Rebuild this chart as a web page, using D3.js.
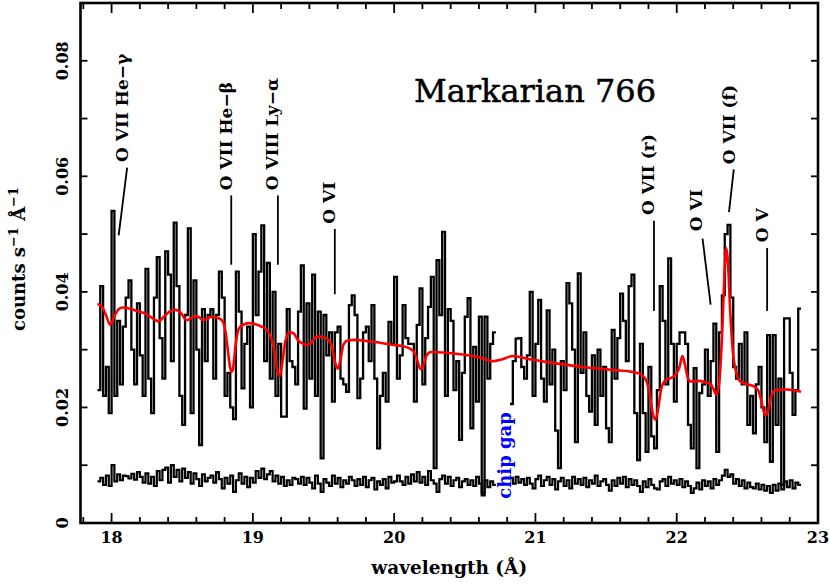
<!DOCTYPE html>
<html><head><meta charset="utf-8">
<script src="https://cdn.jsdelivr.net/npm/d3@7"></script>
<style>body{margin:0;background:#fff}svg{display:block}</style>
</head><body>
<svg id="c" width="830" height="584"></svg>
<script>
// ---------- data ----------
const binStart = 17.90, binWidth = 0.02;
const spectrum = [
0.023,0.041,0.022,0.027,0.019,0.054,0.022,0.035,0.024,0.034,
0.039,0.042,0.030,0.024,0.038,0.029,0.022,0.044,0.025,0.019,
0.039,0.046,0.032,0.025,0.047,0.043,0.028,0.052,0.041,0.022,
0.017,0.036,0.051,0.019,0.042,0.030,0.0135,0.037,0.028,0.036,
0.037,0.025,0.036,0.0435,0.039,0.022,0.026,0.020,0.018,0.0435,
0.0366,0.0233,0.031,0.034,0.020,0.050,0.036,0.0435,0.0515,0.028,
0.045,0.025,0.040,0.022,0.031,0.0184,0.0184,0.037,0.028,0.027,
0.024,0.0366,0.0446,0.0198,0.038,0.025,0.043,0.022,0.0366,0.0112,
0.036,0.029,0.033,0.021,0.033,0.034,0.025,0.024,0.0227,0.0377,
0.0394,0.036,0.0216,0.025,0.033,0.034,0.028,0.0377,0.025,0.0129,
0.022,0.026,0.021,0.0348,0.031,0.0426,0.025,0.029,0.0377,0.032,
0.031,0.031,0.021,0.0343,0.0406,0.024,0.032,0.0374,0.0426,0.0095,
0.0455,0.036,0.0504,0.022,0.037,0.035,0.023,0.028,0.0144,0.026,
0.0357,0.0389,0.0164,0.0305,0.021,0.0357,0.0048,0.0357,0.025,0.031,
0.033,null,null,null,null,null,0.0206,0.028,0.0319,0.032,
0.027,0.025,0.029,0.040,0.022,0.031,0.0386,0.025,0.021,0.0368,
0.024,0.030,0.016,0.0095,0.028,0.023,0.0415,0.038,0.030,0.014,
0.0432,0.026,0.033,0.022,0.0193,0.029,0.017,0.030,0.022,0.027,
0.0164,0.014,0.0334,0.025,0.032,0.0397,0.035,0.028,0.041,0.043,
0.019,0.0109,0.031,0.019,0.0123,0.027,0.015,0.0129,0.023,0.041,
0.035,0.024,0.0458,0.031,0.021,0.031,0.033,0.033,0.031,0.017,
0.0129,0.0268,0.0095,0.0225,0.024,0.030,0.022,0.028,0.0345,0.0123,
0.033,0.0394,0.050,0.0516,0.039,0.027,0.025,0.031,0.024,0.033,
0.017,0.022,0.0155,0.024,0.027,0.020,0.014,0.0325,0.0106,0.0325,
0.017,0.025,0.0066,0.0354,0.0354,0.026,0.0187,0.023,0.0371
];
const background = [
0.0072,0.0078,0.0066,0.0082,0.0064,0.0100,0.0072,0.0084,0.0074,0.0082,
0.0081,0.0077,0.0085,0.0075,0.0088,0.0080,0.0070,0.0086,0.0068,0.0080,
0.0064,0.0090,0.0074,0.0092,0.0096,0.0070,0.0100,0.0080,0.0092,0.0072,
0.0094,0.0078,0.0088,0.0068,0.0086,0.0076,0.0064,0.0084,0.0072,0.0078,
0.0082,0.0070,0.0088,0.0076,0.0060,0.0078,0.0068,0.0082,0.0054,0.0074,
0.0086,0.0068,0.0080,0.0062,0.0078,0.0070,0.0090,0.0078,0.0094,0.0076,
0.0084,0.0090,0.0072,0.0082,0.0068,0.0080,0.0064,0.0074,0.0066,0.0078,
0.0076,0.0068,0.0080,0.0066,0.0078,0.0070,0.0060,0.0082,0.0068,0.0054,
0.0076,0.0070,0.0064,0.0082,0.0068,0.0078,0.0062,0.0074,0.0068,0.0080,
0.0074,0.0064,0.0076,0.0066,0.0080,0.0062,0.0074,0.0078,0.0058,0.0072,
0.0066,0.0076,0.0060,0.0080,0.0070,0.0072,0.0082,0.0072,0.0066,0.0080,
0.0068,0.0084,0.0072,0.0088,0.0070,0.0080,0.0066,0.0090,0.0074,0.0068,
0.0054,0.0076,0.0082,0.0068,0.0080,0.0064,0.0074,0.0078,0.0062,0.0072,
0.0076,0.0066,0.0074,0.0064,0.0080,0.0068,0.0052,0.0074,0.0062,0.0072,
0.0066,null,null,null,null,null,0.0078,0.0068,0.0080,0.0070,
0.0076,0.0066,0.0078,0.0068,0.0060,0.0076,0.0082,0.0064,0.0074,0.0080,
0.0066,0.0076,0.0058,0.0072,0.0078,0.0064,0.0074,0.0060,0.0080,0.0068,
0.0076,0.0066,0.0078,0.0062,0.0074,0.0068,0.0082,0.0064,0.0072,0.0076,
0.0066,0.0056,0.0074,0.0064,0.0078,0.0068,0.0080,0.0062,0.0076,0.0066,
0.0074,0.0064,0.0054,0.0072,0.0062,0.0076,0.0066,0.0060,0.0058,0.0072,
0.0076,0.0064,0.0080,0.0068,0.0074,0.0066,0.0076,0.0062,0.0072,0.0064,
0.0052,0.0060,0.0070,0.0058,0.0074,0.0064,0.0072,0.0060,0.0076,0.0066,
0.0074,0.0082,0.0092,0.0080,0.0084,0.0068,0.0076,0.0064,0.0074,0.0060,
0.0070,0.0062,0.0060,0.0068,0.0058,0.0066,0.0056,0.0064,0.0052,0.0066,
0.0056,0.0068,0.0058,0.0072,0.0062,0.0074,0.0060,0.0070,0.0066
];
const modelWl = [17.90,17.93,17.96,17.99,18.02,18.05,18.08,18.13,18.18,18.24,18.30,18.33,18.37,18.41,18.45,18.49,18.53,18.56,18.59,18.62,18.65,18.68,18.71,18.75,18.78,18.80,18.82,18.84,18.85,18.86,18.88,18.90,18.93,18.97,19.02,19.06,19.10,19.13,19.15,19.17,19.19,19.21,19.23,19.26,19.29,19.32,19.35,19.38,19.41,19.44,19.47,19.50,19.53,19.56,19.58,19.60,19.62,19.64,19.67,19.72,19.80,19.90,20.00,20.06,20.11,20.14,20.16,20.18,20.19,20.21,20.23,20.26,20.35,20.47,20.60,20.70,20.76,20.84,20.95,21.10,21.33,21.55,21.70,21.76,21.79,21.81,21.83,21.85,21.87,21.89,21.92,21.96,21.99,22.02,22.04,22.06,22.08,22.10,22.15,22.20,22.24,22.26,22.28,22.30,22.32,22.34,22.35,22.36,22.38,22.40,22.42,22.45,22.50,22.55,22.58,22.60,22.62,22.63,22.65,22.67,22.70,22.78,22.88];
const modelVal = [0.0379,0.0375,0.0360,0.0343,0.0358,0.0370,0.0373,0.0371,0.0367,0.0362,0.0353,0.0349,0.0357,0.0366,0.0369,0.0364,0.0351,0.0354,0.0358,0.0356,0.0351,0.0354,0.0357,0.0355,0.0351,0.0340,0.0305,0.0268,0.0262,0.0268,0.0312,0.0336,0.0343,0.0346,0.0344,0.0340,0.0334,0.0320,0.0300,0.0268,0.0254,0.0280,0.0315,0.0330,0.0328,0.0316,0.0311,0.0308,0.0311,0.0320,0.0323,0.0321,0.0318,0.0305,0.0280,0.0267,0.0282,0.0308,0.0316,0.0317,0.0315,0.0312,0.0308,0.0306,0.0302,0.0296,0.0285,0.0269,0.0266,0.0275,0.0290,0.0296,0.0295,0.0292,0.0287,0.0280,0.0283,0.0289,0.0284,0.0278,0.0270,0.0265,0.0261,0.0255,0.0243,0.0222,0.0190,0.0179,0.0200,0.0232,0.0247,0.0251,0.0256,0.0270,0.0289,0.0272,0.0250,0.0245,0.0246,0.0244,0.0240,0.0232,0.0222,0.0240,0.0320,0.0440,0.0476,0.0460,0.0360,0.0290,0.0262,0.0245,0.0240,0.0236,0.0228,0.0210,0.0190,0.0186,0.0198,0.0220,0.0230,0.0231,0.0227];
const xTickValues = [18,19,20,21,22,23];
const xTickLabels = ["18","19","20","21","22","23"];
const yTickValues = [0,0.02,0.04,0.06,0.08];
const yTickLabels = ["0","0.02","0.04","0.06","0.08"];
const lineNames   = ["O VII He\u2212\u03B3","O VII He\u2212\u03B2","O VIII Ly\u2212\u03B1","O VI","O VII (r)","O VI","O VII (f)","O V"];
const labelWl     = [18.113,18.852,19.177,19.580,21.839,22.180,22.410,22.643];
const labelStart  = [0.0625,0.0576,0.0576,0.0518,0.0533,0.0505,0.0621,0.0486];
const leaderWlTop = [18.110,18.847,19.177,19.580,21.839,22.183,22.404,22.640];
const leaderTop   = [0.0615,0.0567,0.0567,0.0509,0.0523,0.0492,0.0612,0.0476];
const leaderWlBot = [18.050,18.847,19.177,19.580,21.839,22.240,22.370,22.640];
const leaderBot   = [0.0498,0.0447,0.0447,0.0396,0.0367,0.0378,0.0538,0.0367];
const titleText = "Markarian 766";
const gapText = "chip gap";

// ---------- layout ----------
const svg = d3.select("#c");
const L = 80.5, R = 818, T = 3, B = 523;
const x = d3.scaleLinear().domain([17.78, 23.0]).range([L, R]);
const y = d3.scaleLinear().domain([0, 0.09]).range([B, T]);
const serif = "'DejaVu Serif', 'Liberation Serif', serif";

function steps(vals) {
  const pts = [];
  vals.forEach((v, i) => {
    const x0 = binStart + i * binWidth, x1 = x0 + binWidth;
    pts.push({w: x0, v: v});
    pts.push({w: x1, v: v});
  });
  return pts;
}
const hist = d3.line().defined(d => d.v !== null).x(d => x(d.w)).y(d => y(d.v));

svg.append("path").attr("d", hist(steps(background)))
  .attr("fill", "none").attr("stroke", "#000").attr("stroke-width", 2.2);
svg.append("path").attr("d", hist(steps(spectrum)))
  .attr("fill", "none").attr("stroke", "#000").attr("stroke-width", 2.3);

const model = modelWl.map((w, i) => [w, modelVal[i]]);
svg.append("path")
  .attr("d", d3.line().x(d => x(d[0])).y(d => y(d[1])).curve(d3.curveMonotoneX)(model))
  .attr("fill", "none").attr("stroke", "#ff0000").attr("stroke-width", 2.6);

lineNames.forEach((name, i) => {
  svg.append("line")
    .attr("x1", x(leaderWlTop[i])).attr("y1", y(leaderTop[i]))
    .attr("x2", x(leaderWlBot[i])).attr("y2", y(leaderBot[i]))
    .attr("stroke", "#000").attr("stroke-width", 1.8);
  svg.append("text")
    .attr("transform", `translate(${x(labelWl[i])},${y(labelStart[i])}) rotate(-90)`)
    .attr("font-family", serif).attr("font-weight", "bold").attr("font-size", 17)
    .attr("text-anchor", "start").text(name);
});

svg.append("text").attr("x", x(20.14)).attr("y", y(0.0728))
  .attr("font-family", serif).attr("font-size", 32)
  .attr("stroke", "#000").attr("stroke-width", 0.5).text(titleText);

svg.append("text")
  .attr("transform", `translate(${x(20.83)},${y(0.0042)}) rotate(-90)`)
  .attr("font-family", serif).attr("font-weight", "bold").attr("font-size", 18)
  .attr("fill", "#0000ff").text(gapText);

const tk = svg.append("g").attr("stroke", "#000").attr("stroke-width", 1.8);
d3.range(0, 27).forEach(k => {
  const w = 17.8 + k * 0.2;
  const major = Math.abs(w - Math.round(w)) < 1e-6;
  const len = major ? 10 : 6;
  tk.append("line").attr("x1", x(w)).attr("x2", x(w)).attr("y1", B).attr("y2", B - len);
  tk.append("line").attr("x1", x(w)).attr("x2", x(w)).attr("y1", T).attr("y2", T + len);
});
d3.range(0, 10).forEach(k => {
  const v = k * 0.01;
  const len = 7;
  tk.append("line").attr("x1", L).attr("x2", L + len).attr("y1", y(v)).attr("y2", y(v));
  tk.append("line").attr("x1", R).attr("x2", R - len).attr("y1", y(v)).attr("y2", y(v));
});

svg.append("rect").attr("x", L).attr("y", T).attr("width", R - L).attr("height", B - T)
  .attr("fill", "none").attr("stroke", "#000").attr("stroke-width", 2.6);

xTickValues.forEach((v, i) => {
  svg.append("text").attr("x", x(v)).attr("y", 543)
    .attr("text-anchor", "middle").attr("font-family", serif).attr("font-weight", "bold")
    .attr("font-size", 16).text(xTickLabels[i]);
});
yTickValues.forEach((v, i) => {
  svg.append("text").attr("transform", `translate(68,${y(v)}) rotate(-90)`)
    .attr("text-anchor", "middle").attr("font-family", serif).attr("font-weight", "bold")
    .attr("font-size", 16).text(yTickLabels[i]);
});

svg.append("text").attr("x", (L + R) / 2).attr("y", 574)
  .attr("text-anchor", "middle").attr("font-family", serif).attr("font-weight", "bold")
  .attr("font-size", 18.5).text("wavelength (\u00C5)");
const yl = svg.append("text").attr("transform", `translate(25,259) rotate(-90)`)
  .attr("text-anchor", "middle").attr("font-family", serif).attr("font-weight", "bold")
  .attr("font-size", 18);
yl.append("tspan").text("counts s");
yl.append("tspan").attr("dy", -7).attr("font-size", 13).text("\u22121");
yl.append("tspan").attr("dy", 7).text(" \u00C5");
yl.append("tspan").attr("dy", -7).attr("font-size", 13).text("\u22121");
</script>
</body></html>
